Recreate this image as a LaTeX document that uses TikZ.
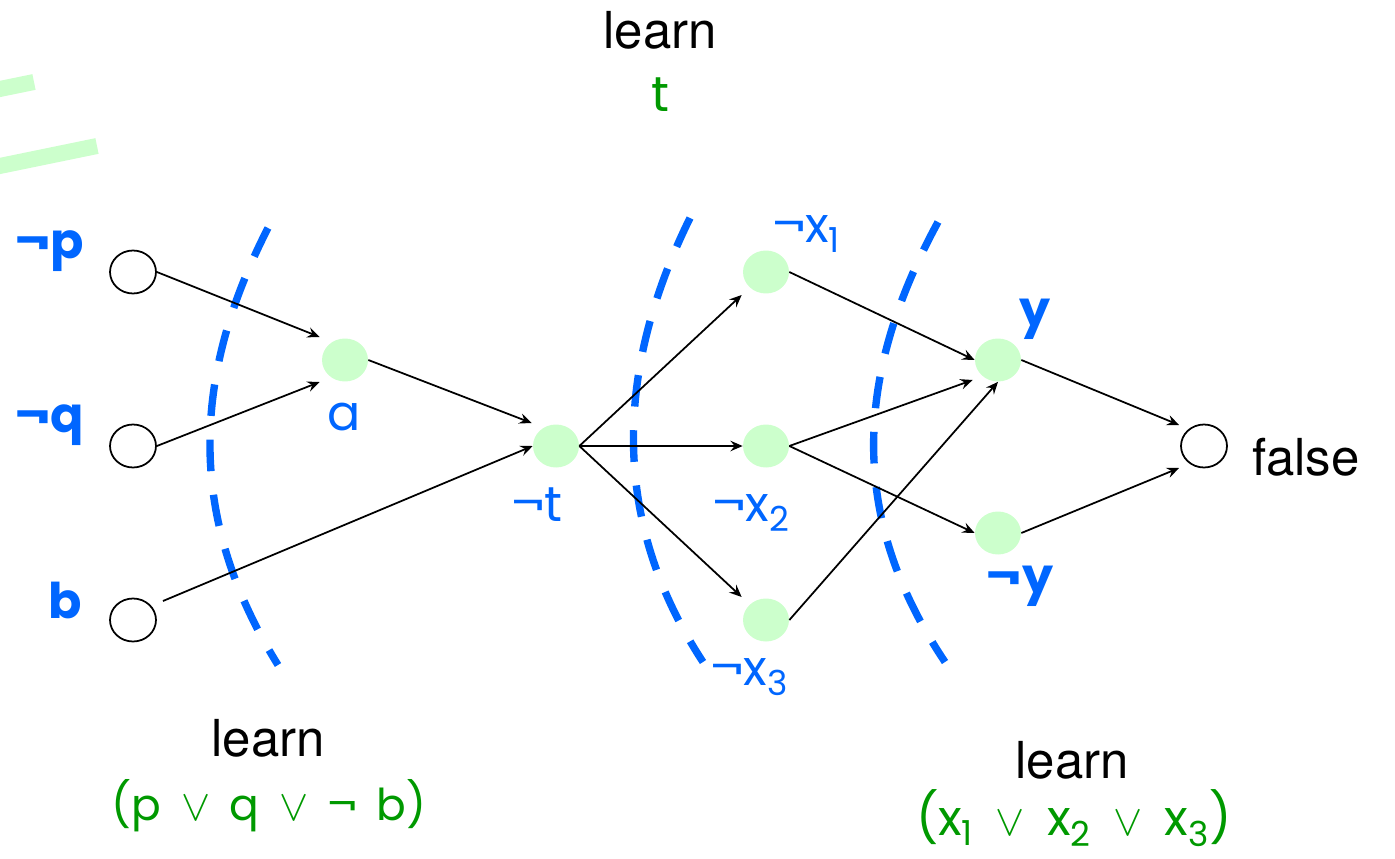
\documentclass[tikz,border=0pt]{standalone}
\usepackage{fontspec}
\setmainfont{TeX Gyre Heros}
\newfontfamily\comic{Poppins}
\usetikzlibrary{shapes.geometric,arrows.meta,calc}
\definecolor{lgreen}{HTML}{CCFFCC}
\definecolor{lblue}{HTML}{0066FF}
\definecolor{dgreen}{HTML}{009900}
\newcommand\cgap{\hspace{0.45em}}
\begin{document}
\begin{tikzpicture}[x=0.02cm,y=-0.02cm,
  open/.style={ellipse,draw=black,line width=1pt,minimum width=0.92cm,minimum height=0.86cm,inner sep=0pt},
  fact/.style={ellipse,fill=lgreen,minimum width=0.92cm,minimum height=0.86cm,inner sep=0pt},
  lbl/.style={text=lblue,font=\comic\fontsize{28}{32}\selectfont,inner sep=0pt},
  blbl/.style={text=lblue,font=\comic\bfseries\fontsize{28}{32}\selectfont,inner sep=0pt},
  edge/.style={line width=1pt,-{Stealth[length=7pt,width=6pt,inset=2.5pt]}},
  cut/.style={draw=lblue,line width=4.2pt,dash pattern=on 18pt off 13.5pt},
  word/.style={font=\fontsize{29}{33}\selectfont,inner sep=0pt},
  clause/.style={text=dgreen,inner sep=0pt},
  strip/.style={draw=lgreen,line width=0.32cm}
]
\useasboundingbox (0,0) rectangle (1395,858);

% pale green strips at top left
\draw[strip] (-10,91) -- (34,82);
\draw[strip] (-10,168) -- (97,146);

% nodes
\node[open] (np) at (133,272) {};
\node[open] (nq) at (133,446) {};
\node[open] (b)  at (133,620) {};
\node[fact] (a)  at (345,360) {};
\node[fact] (nt) at (556,446) {};
\node[fact] (x1) at (766,272) {};
\node[fact] (x2) at (766,446) {};
\node[fact] (x3) at (766,620) {};
\node[fact] (y)  at (998,360) {};
\node[fact] (ny) at (998,533) {};
\node[open] (f)  at (1204,446) {};

% labels
\node[blbl] (lnp) at (50,251) {¬p};
\node[blbl] (lnq) at (50,425) {¬q};
\node[blbl] (lb)  at (65,600) {b};
\node[lbl]  (la)  at (344,417) {a};
\node[lbl]  (lnt) at (537,505) {¬t};
\node[lbl]  (lx1) at (807,234) {¬x\textsubscript{1}};
\node[lbl]  (lx2) at (752,513) {¬x\textsubscript{2}};
\node[lbl]  (lx3) at (750,677) {¬x\textsubscript{3}};
\node[blbl] (ly)  at (1035,319) {y};
\node[blbl] (lny) at (1020,586) {¬y};
\node[word] (lf)  at (1306,457) {false};

% cut lines
\draw[cut] (268,228) .. controls (190,380) and (188,520) .. (278,665);
\draw[cut] (690,218) .. controls (615,370) and (610,520) .. (703,662);
\draw[cut] (938,222) .. controls (852,380) and (850,520) .. (945,662);

% edges
\draw[edge] (np.east) -- ($(a.west)+(-2,-23)$);
\draw[edge] (nq.east) -- ($(a.west)+(-2,22)$);
\draw[edge] ($(b.center)+(30,-19)$) -- (nt.west);
\draw[edge] (a.east) -- ($(nt.west)+(-1,-23)$);
\draw[edge] (nt.east) -- ($(x1.west)+(-1,23)$);
\draw[edge] (nt.east) -- (x2.west);
\draw[edge] (nt.east) -- ($(x3.west)+(-1,-23)$);
\draw[edge] (x1.east) -- (y.west);
\draw[edge] (x2.east) -- ($(y.west)+(-2,20)$);
\draw[edge] (x3.east) -- (y.south);
\draw[edge] (x2.east) -- (ny.west);
\draw[edge] (y.east) -- ($(f.west)+(-1,-21)$);
\draw[edge] (ny.east) -- ($(f.west)+(-1,22)$);

% learn texts
\node[word] (l1) at (660,30) {learn};
\node[clause,font=\comic\fontsize{28}{32}\selectfont] (c1) at (660,95) {t};
\node[word] (l2) at (268,738) {learn};
\node[clause,font=\comic\fontsize{25}{29}\selectfont] (c2) at (269,806) {(p\cgap$\vee$\cgap q\cgap$\vee$\cgap¬\cgap b)};
\node[word] (l3) at (1072,760) {learn};
\node[clause,font=\comic\fontsize{28}{32}\selectfont] (c3) at (1074,818) {(x\textsubscript{1}\cgap$\vee$\cgap x\textsubscript{2}\cgap$\vee$\cgap x\textsubscript{3})};
\end{tikzpicture}
\end{document}
